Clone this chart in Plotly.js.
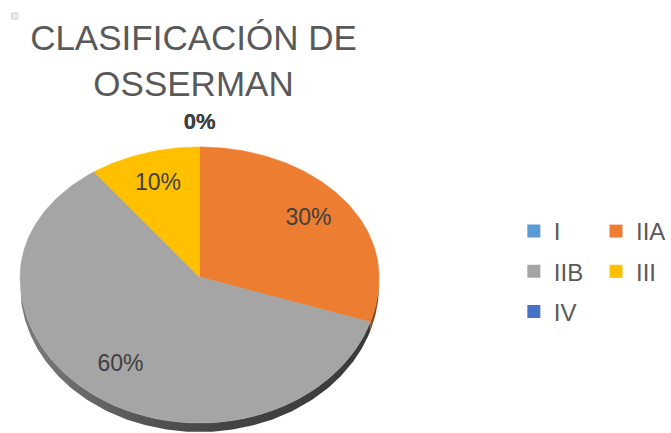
<!DOCTYPE html>
<html><head><meta charset="utf-8">
<script src="https://cdn.plot.ly/plotly-3.0.1.min.js"></script>
<style>html,body{margin:0;padding:0;background:#fff}#chart{width:671px;height:433px}</style>
</head><body><div id="chart"></div>
<script>
// ---- data ----
const categories = ['I', 'IIA', 'IIB', 'III', 'IV'];
const values = [0, 30, 60, 10, 0];
const colors = ['#5B9BD5', '#ED7D31', '#A5A5A5', '#FFC000', '#4472C4'];
const titleText = 'CLASIFICACIÓN DE<br>OSSERMAN';

// ---- geometry (pixel-like axis units) ----
const W = 671, H = 433;
const CX = 203.5, CY = 277, RX = 183, RY_TOP = 130, RY_BOT = 146, DEPTH = 9;
const FONT = '"Liberation Sans", Arial, Helvetica, sans-serif';

function pt(theta, r, drop) {
  const t = theta * Math.PI / 180;
  const c = Math.cos(t);
  const ry = c >= 0 ? RY_TOP : RY_BOT;
  return [CX + r * RX * Math.sin(t), CY - r * ry * c + (drop || 0)];
}
function darken(hex, f) {
  const n = parseInt(hex.slice(1), 16);
  const r = Math.round(((n >> 16) & 255) * f), g = Math.round(((n >> 8) & 255) * f), b = Math.round((n & 255) * f);
  return 'rgb(' + r + ',' + g + ',' + b + ')';
}

const total = values.reduce((a, b) => a + b, 0);
const sideTraces = [], sliceTraces = [], legendTraces = [];
const inX = [], inY = [], inT = [], outX = [], outY = [], outT = [];
const seen = {};
let acc = 0;
values.forEach((v, i) => {
  const a0 = acc / total * 360, a1 = (acc + v) / total * 360;
  acc += v;
  const pct = Math.round(v / total * 100) + '%';
  if (v > 0) {
    // top face
    const xs = [CX], ys = [CY];
    for (let a = a0; a <= a1 + 1e-9; a += Math.min(1, a1 - a0)) {
      const p = pt(Math.min(a, a1), 1); xs.push(p[0]); ys.push(p[1]);
    }
    xs.push(CX); ys.push(CY);
    sliceTraces.push({
      type: 'scatter', mode: 'lines', x: xs, y: ys, fill: 'toself',
      fillcolor: colors[i], line: {color: colors[i], width: 0.6},
      showlegend: false, hoverinfo: 'skip'
    });
    // side band (visible front half: 90..270)
    const s = Math.max(a0, 90), e = Math.min(a1, 270);
    if (e > s) {
      const sx = [], sy = [];
      for (let a = s; a <= e + 1e-9; a += 1) { const p = pt(Math.min(a, e), 1); sx.push(p[0]); sy.push(p[1]); }
      for (let a = e; a >= s - 1e-9; a -= 1) { const p = pt(Math.max(a, s), 1, DEPTH); sx.push(p[0]); sy.push(p[1]); }
      const tr = {
        type: 'scatter', mode: 'lines', x: sx, y: sy, fill: 'toself',
        line: {width: 0, color: 'rgba(0,0,0,0)'}, showlegend: false, hoverinfo: 'skip'
      };
      if (colors[i] === '#A5A5A5') {
        tr.fillgradient = {type: 'horizontal', colorscale: [[0, '#7d7d7d'], [0.35, '#555555'], [0.6, '#434343'], [1, '#3a3a3a']]};
      } else {
        tr.fillcolor = darken(colors[i], 0.6);
      }
      sideTraces.push(tr);
    }
    const m = pt((a0 + a1) / 2, 0.75);
    inX.push(m[0]); inY.push(m[1]); inT.push(pct);
  } else {
    const m = pt(a0, 1.18);
    const key = Math.round(m[0]) + ',' + Math.round(m[1]);
    if (!seen[key]) { seen[key] = 1; outX.push(m[0]); outY.push(m[1]); outT.push('<b>' + pct + '</b>'); }
  }
  legendTraces.push({
    type: 'scatter', mode: 'markers', x: [null], y: [null], name: categories[i],
    marker: {symbol: 'square', size: 13, color: colors[i]},
    legend: i % 2 === 0 ? 'legend' : 'legend2', legendgroup: categories[i],
    showlegend: true, hoverinfo: 'skip'
  });
});

const labelTraces = [
  {type: 'scatter', mode: 'text', x: inX, y: inY, text: inT, textposition: 'middle center',
   textfont: {size: 23, color: '#404040', family: FONT}, showlegend: false, hoverinfo: 'skip', cliponaxis: false},
  {type: 'scatter', mode: 'text', x: outX, y: outY, text: outT, textposition: 'middle center',
   textfont: {size: 22, color: '#404040', family: FONT}, showlegend: false, hoverinfo: 'skip', cliponaxis: false}
];

const legendBase = {
  xanchor: 'left', yanchor: 'top', y: 1 - 209 / H,
  font: {size: 24, color: '#595959', family: FONT},
  traceorder: 'grouped', tracegroupgap: 6, bgcolor: 'rgba(0,0,0,0)', itemclick: false, itemdoubleclick: false
};

const layout = {
  width: W, height: H, margin: {l: 0, r: 0, t: 0, b: 0},
  paper_bgcolor: '#ffffff', plot_bgcolor: 'rgba(0,0,0,0)',
  font: {family: FONT, color: '#595959'},
  xaxis: {range: [0, W], visible: false, fixedrange: true},
  yaxis: {range: [H, 0], visible: false, fixedrange: true},
  title: {text: titleText, font: {size: 35, color: '#595959', family: FONT},
          x: 193.5 / W, xanchor: 'center', xref: 'container', y: 1 - 50 / H, yanchor: 'top', yref: 'container'},
  showlegend: true,
  legend: Object.assign({}, legendBase, {x: 524 / W}),
  legend2: Object.assign({}, legendBase, {x: 608 / W}),
  hovermode: false,
  shapes: [{type: 'rect', xref: 'paper', yref: 'paper', x0: 12 / W, x1: 18 / W, y0: 1 - 19 / H, y1: 1 - 13 / H,
            line: {color: '#cccccc', width: 1}, fillcolor: '#eeeeee'}]
};

Plotly.newPlot('chart', sideTraces.concat(sliceTraces, labelTraces, legendTraces), layout,
  {staticPlot: true, displayModeBar: false});
</script></body></html>
